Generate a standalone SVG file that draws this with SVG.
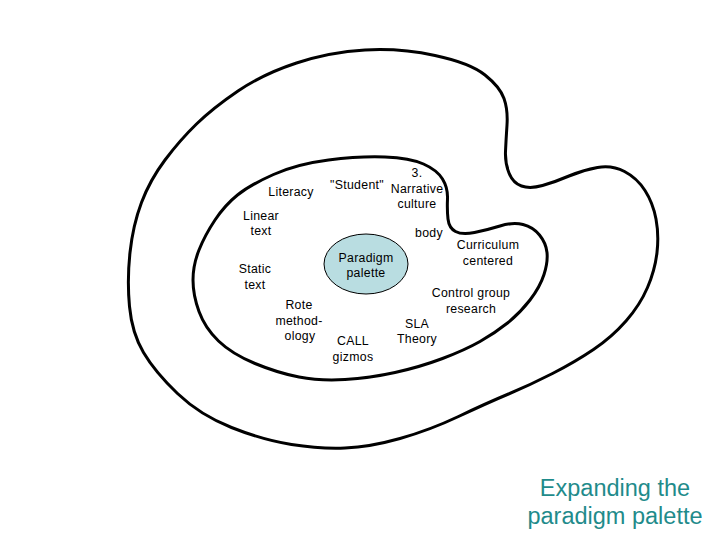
<svg xmlns="http://www.w3.org/2000/svg" width="720" height="540" viewBox="0 0 720 540">
<style>
.shape{fill:none;stroke:#000;stroke-width:3;stroke-linejoin:round}
.lbl{font-family:"Liberation Sans",Arial,sans-serif;font-size:12.3px;letter-spacing:0.3px;fill:#000;text-anchor:middle}
.title{font-family:"Liberation Sans",Arial,sans-serif;font-size:23.5px;fill:#1f8b8b;text-anchor:middle}
</style>
<rect width="720" height="540" fill="#fff"/>
<g id="outer">
<path class="shape" d="M 365,50 Q 400,48 435,55.5 Q 470,63 485,75 Q 500,87 504,98.5 Q 508,110 507,125 Q 506,140 505.5,151.5 Q 505,163 509,173 Q 513,183 521.5,186 Q 530,189 542.5,185.5 Q 555,182 569,176 Q 583,170 597.5,167.5 Q 612,165 624.5,171.5 Q 637,178 645,190.5 Q 653,203 656,219 Q 659,235 657,252.5 Q 655,270 647.5,287.5 Q 640,305 626,321 Q 612,337 593.5,349.5 Q 575,362 552.5,373.5 Q 530,385 508.5,394 Q 487,403 458.5,416.5 Q 430,430 400,438.5 Q 370,447 345,448 Q 320,449 291.5,444.5 Q 263,440 231.5,427.5 Q 200,415 177.5,393.5 Q 155,372 143.5,352.5 Q 132,333 129.5,306.5 Q 127,280 130,252.5 Q 133,225 141.5,202.5 Q 150,180 165,160 Q 180,140 196.5,124 Q 213,108 238,91 Q 263,74 296.5,63 Q 330,52 365,50 Z"/>
</g>
<g id="inner">
<path class="shape" d="M 328.5,160 Q 360,156 385,157 Q 410,158 423.5,164 Q 437,170 442.5,179 Q 448,188 447.5,199 Q 447,210 448,219 Q 449,228 455.5,231.5 Q 462,235 474.5,232.5 Q 487,230 500,226 Q 513,222 523,224.5 Q 533,227 539.5,235 Q 546,243 547,252.5 Q 548,262 544,274.5 Q 540,287 530,300 Q 520,313 507.5,323 Q 495,333 480,341.5 Q 465,350 442.5,358.5 Q 420,367 395,372.5 Q 370,378 345,379.5 Q 320,381 299,377 Q 278,373 255,363.5 Q 232,354 218.5,341 Q 205,328 199,311.5 Q 193,295 193,280 Q 193,265 199,250 Q 205,235 215,220 Q 225,205 237.5,195 Q 250,185 273.5,174.5 Q 297,164 328.5,160 Z"/>
</g>
<g id="center">
<ellipse cx="366" cy="264" rx="42" ry="30" fill="#b9dde1" stroke="#000" stroke-width="1"/>
<text class="lbl" x="366" y="262">Paradigm</text>
<text class="lbl" x="366" y="277">palette</text>
</g>
<g id="connectors"></g>
<g id="labels">
<g id="n-narrative"><text class="lbl" x="417" y="177">3.</text><text class="lbl" x="417" y="193">Narrative</text><text class="lbl" x="417" y="208">culture</text></g>
<g id="n-student"><text class="lbl" x="357" y="189">"Student"</text></g>
<g id="n-literacy"><text class="lbl" x="291" y="196">Literacy</text></g>
<g id="n-linear"><text class="lbl" x="261" y="220">Linear</text><text class="lbl" x="261" y="235">text</text></g>
<g id="n-body"><text class="lbl" x="429" y="237">body</text></g>
<g id="n-static"><text class="lbl" x="255" y="273">Static</text><text class="lbl" x="255" y="289">text</text></g>
<g id="n-curriculum"><text class="lbl" x="488" y="249">Curriculum</text><text class="lbl" x="488" y="265">centered</text></g>
<g id="n-control"><text class="lbl" x="471" y="297">Control group</text><text class="lbl" x="471" y="313">research</text></g>
<g id="n-rote"><text class="lbl" x="299" y="309">Rote</text><text class="lbl" x="299" y="325">method-</text><text class="lbl" x="300" y="340">ology</text></g>
<g id="n-sla"><text class="lbl" x="417" y="328">SLA</text><text class="lbl" x="417" y="343">Theory</text></g>
<g id="n-call"><text class="lbl" x="353" y="345">CALL</text><text class="lbl" x="353" y="361">gizmos</text></g>
</g>
<g id="caption">
<text class="title" x="615" y="496">Expanding the</text>
<text class="title" x="615" y="524">paradigm palette</text>
</g>
</svg>
